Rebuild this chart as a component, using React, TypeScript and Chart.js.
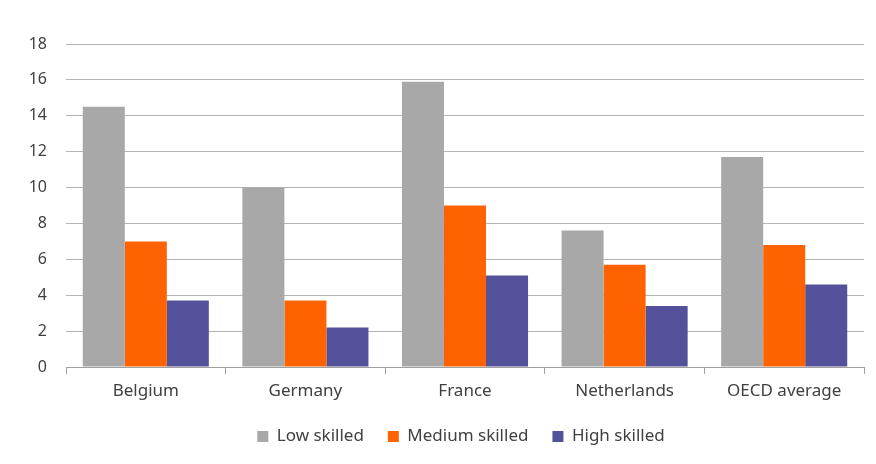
import React, { useEffect, useRef } from "react";
import { Chart, registerables } from "chart.js";

Chart.register(...registerables);

const categories = ["Belgium", "Germany", "France", "Netherlands", "OECD average"];
const lowSkilled = [14.5, 10.0, 15.9, 7.6, 11.7];
const mediumSkilled = [7.0, 3.7, 9.0, 5.7, 6.8];
const highSkilled = [3.7, 2.2, 5.1, 3.4, 4.6];
const seriesNames = ["Low skilled", "Medium skilled", "High skilled"];
const yTicks = [0, 2, 4, 6, 8, 10, 12, 14, 16, 18];

const FONT = "'Noto Sans', sans-serif";
const TEXT = "#404040";

const legendShift = {
  id: "legendShift",
  afterLayout(chart: any) {
    const lg = chart.legend;
    if (lg) {
      lg.left += 58;
      lg.width = lg.right - lg.left;
    }
  },
};

export default function App() {
  const ref = useRef<HTMLCanvasElement | null>(null);
  useEffect(() => {
    document.body.style.margin = "0";
    const ctx = ref.current!;
    const chart = new Chart(ctx, {
      type: "bar",
      data: {
        labels: categories,
        datasets: [
          { label: seriesNames[0], data: lowSkilled, backgroundColor: "#A8A8A8" },
          { label: seriesNames[1], data: mediumSkilled, backgroundColor: "#FF6200" },
          { label: seriesNames[2], data: highSkilled, backgroundColor: "#525199" },
        ],
      },
      plugins: [legendShift],
      options: {
        animation: false,
        responsive: false,
        maintainAspectRatio: false,
        datasets: { bar: { categoryPercentage: 0.79, barPercentage: 1 } },
        layout: { padding: { left: 0, right: 12, top: 44, bottom: 9 } },
        plugins: {
          tooltip: { enabled: false },
          legend: {
            position: "bottom",
            labels: {
              boxWidth: 11,
              boxHeight: 11,
              padding: 24,
              color: TEXT,
              font: { family: FONT, size: 17 },
            },
          },
        },
        scales: {
          x: {
            grid: {
              display: true,
              drawOnChartArea: false,
              drawTicks: true,
              tickLength: 7,
              color: "#A0A0A0",
              offset: true,
            },
            border: { display: true, color: "#A0A0A0" },
            ticks: { color: TEXT, padding: 7, font: { family: FONT, size: 17 } },
            afterFit: (s: any) => {
              s.height = 37;
            },
          },
          y: {
            min: 0,
            max: 18,
            afterBuildTicks: (s: any) => {
              s.ticks = yTicks.map((v) => ({ value: v }));
            },
            grid: { color: "#B4B4B4", drawTicks: false },
            border: { display: false },
            ticks: { color: TEXT, padding: 19, font: { family: FONT, size: 16 } },
            afterFit: (s: any) => {
              s.width = 66;
            },
          },
        },
      },
    });
    return () => chart.destroy();
  }, []);
  return <canvas ref={ref} width={876} height={464} style={{ display: "block" }} />;
}
